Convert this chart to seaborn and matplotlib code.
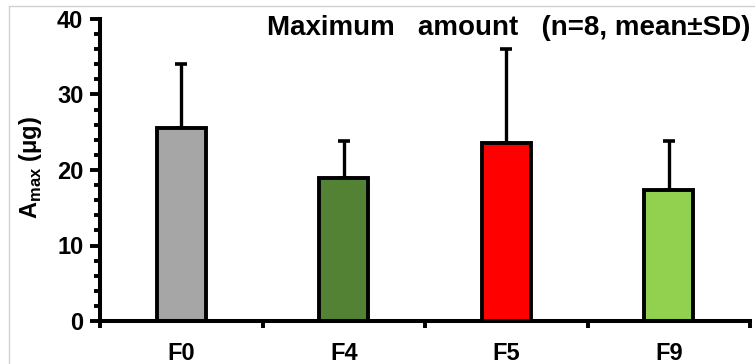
import matplotlib
matplotlib.use("Agg")
import matplotlib.pyplot as plt
import matplotlib.lines as mlines
from matplotlib.ticker import MultipleLocator, FixedLocator
import pandas as pd
import seaborn as sns

# Data: maximum amount per formulation (n=8, mean ± SD)
formulations = ["F0", "F4", "F5", "F9"]
means = [25.6, 19.0, 23.6, 17.4]
sds = [8.4, 4.8, 12.4, 6.4]
bar_colors = ["#A6A6A6", "#548235", "#FF0000", "#92D050"]

sns.set_theme(style="white")
plt.rcParams["font.family"] = ["Liberation Sans", "DejaVu Sans"]
plt.rcParams["mathtext.fontset"] = "custom"
plt.rcParams["mathtext.rm"] = "Liberation Sans"
plt.rcParams["mathtext.bf"] = "Liberation Sans:bold"

df = pd.DataFrame({"formulation": formulations, "mean": means, "sd": sds})

fig = plt.figure(figsize=(7.55, 3.64), dpi=100)
ax = fig.add_axes([100 / 755, 1 - 321 / 364, 650 / 755, 302 / 364])

sns.barplot(data=df, x="formulation", y="mean", hue="formulation",
            palette=bar_colors, saturation=1, legend=False, errorbar=None,
            width=0.3, edgecolor="black", linewidth=2.8, ax=ax, zorder=2)

# upper-only error bars
ax.errorbar(range(len(formulations)), df["mean"],
            yerr=[[0] * len(sds), df["sd"]], fmt="none", ecolor="black",
            elinewidth=2.4, capsize=4.5, capthick=2.6, zorder=1)

ax.set_xlim(-0.5, len(formulations) - 0.5)
ax.set_ylim(0, 40)

# spines
for side in ["top", "right"]:
    ax.spines[side].set_visible(False)
for side in ["left", "bottom"]:
    ax.spines[side].set_linewidth(2.9)
    ax.spines[side].set_color("black")

# y ticks: majors every 10, minors every 2
ax.yaxis.set_major_locator(MultipleLocator(10))
ax.yaxis.set_minor_locator(MultipleLocator(2))
ax.tick_params(axis="y", which="major", direction="out", length=7, width=2.8,
               color="black", labelsize=17, pad=5, left=True)
ax.tick_params(axis="y", which="minor", direction="out", length=4, width=2.8,
               color="black", left=True)

# x ticks: labels at centres, marks at category boundaries
ax.xaxis.set_minor_locator(FixedLocator([i - 0.5 for i in range(len(formulations) + 1)]))
ax.tick_params(axis="x", which="major", length=0, labelsize=17, pad=15)
ax.tick_params(axis="x", which="minor", direction="out", length=5, width=2.8,
               color="black", bottom=True)

for lbl in ax.get_xticklabels() + ax.get_yticklabels():
    lbl.set_fontweight("bold")
    lbl.set_color("black")

ax.set_xlabel("")
ax.set_ylabel(r"A$_{\mathbf{max}}$ (μg)", fontsize=17, fontweight="bold",
              color="black")
ax.yaxis.set_label_coords(-0.086, 0.51)

ax.text(1.0, 0.97, "Maximum   amount   (n=8, mean±SD)", transform=ax.transAxes,
        ha="right", va="center", fontsize=20, fontweight="bold", color="black")

# thin grey frame along the top and left of the figure
fig.add_artist(mlines.Line2D([9 / 755, 1.0], [1 - 6 / 364, 1 - 6 / 364],
                             transform=fig.transFigure, color="#D0D0D0", linewidth=1))
fig.add_artist(mlines.Line2D([9 / 755, 9 / 755], [0.0, 1 - 6 / 364],
                             transform=fig.transFigure, color="#D0D0D0", linewidth=1))

fig.savefig("out.png", dpi=100)
